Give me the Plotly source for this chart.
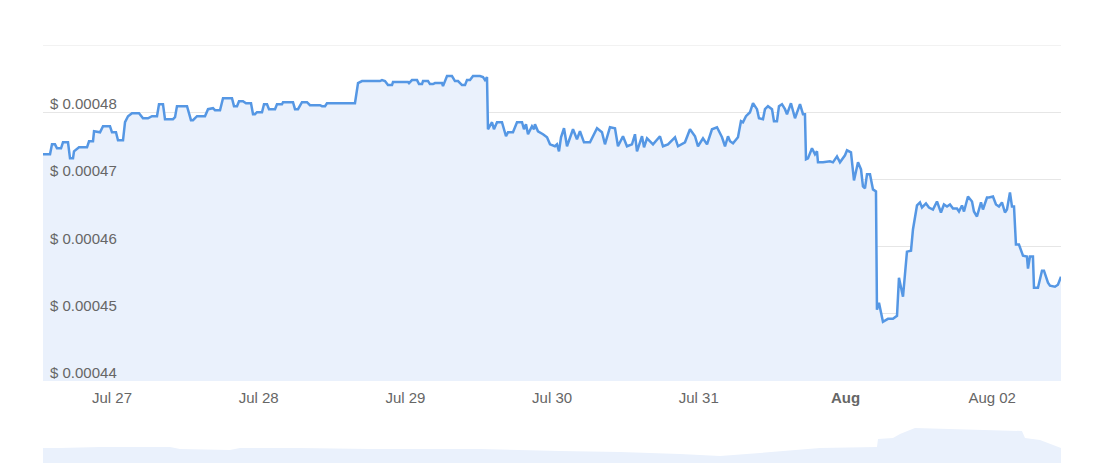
import pandas as pd
import plotly.graph_objects as go

# ---- data (hours since 2023-07-27 00:00, price in USD) ----
base_time = pd.Timestamp("2023-07-27 00:00")
hours = [-11.29, -10.14, -9.82, -9.33, -9.00, -8.34, -8.02, -7.20, -6.87, -6.38,
         -6.22, -5.40, -4.09, -3.76, -3.11, -2.94, -1.96, -1.47, -0.33, 0.00,
         0.65, 0.98, 1.80, 2.13, 2.62, 3.27, 4.42, 5.07, 5.89, 6.54,
         7.36, 7.69, 8.34, 8.67, 9.98, 10.31, 10.63, 12.27, 12.92, 13.25,
         13.91, 15.21, 15.71, 16.52, 16.85, 17.67, 18.16, 19.63, 19.96, 20.45,
         20.78, 21.43, 21.92, 22.74, 23.07, 23.39, 23.72, 24.54, 24.87, 25.36,
         25.69, 26.67, 26.99, 27.81, 27.98, 29.61, 29.94, 30.43, 31.08, 31.90,
         32.39, 34.03, 34.36, 34.85, 35.17, 37.79, 39.75, 40.25, 40.90, 41.72,
         43.84, 44.17, 44.66, 45.15, 45.81, 45.97, 48.43, 48.59, 49.08, 49.90,
         50.23, 50.72, 50.88, 51.70, 52.02, 52.52, 52.84, 53.99, 54.15, 54.81,
         55.62, 56.11, 56.61, 57.26, 57.75, 58.08, 58.57, 59.06, 60.20, 60.70,
         61.02, 61.35, 61.51, 62.17, 62.49, 62.99, 63.80, 64.46, 64.79, 65.60,
         66.26, 67.08, 67.40, 67.73, 68.06, 68.71, 69.04, 69.20, 69.69, 70.51,
         71.17, 71.66, 72.47, 72.80, 73.13, 73.46, 73.95, 74.44, 75.42, 76.07,
         76.56, 77.22, 78.20, 79.35, 80.16, 80.65, 81.47, 82.29, 82.78, 83.60,
         84.25, 85.07, 85.56, 85.89, 86.71, 87.04, 87.53, 88.51, 89.65, 90.14,
         90.96, 92.11, 92.60, 93.74, 94.56, 95.38, 95.87, 96.69, 97.35, 98.16,
         98.98, 99.80, 100.29, 100.78, 101.11, 101.60, 102.41, 102.90, 103.23, 103.72,
         104.38, 104.87, 105.52, 105.85, 106.50, 106.83, 107.32, 107.98, 108.30, 108.79,
         109.12, 109.61, 110.10, 110.43, 111.08, 111.74, 112.56, 113.05, 113.37, 113.54,
         113.86, 114.52, 115.01, 115.34, 115.50, 116.32, 117.46, 117.95, 118.61, 119.10,
         119.92, 120.25, 120.90, 121.39, 122.05, 122.54, 122.86, 123.19, 123.52, 124.01,
         124.50, 124.99, 125.15, 125.48, 126.13, 126.95, 127.77, 128.43, 128.75, 129.41,
         130.06, 130.72, 131.04, 131.70, 132.19, 132.52, 133.17, 133.66, 134.31, 134.97,
         135.62, 136.11, 136.61, 137.10, 137.59, 138.24, 138.57, 139.06, 139.39, 140.04,
         140.70, 141.02, 141.51, 142.17, 142.49, 143.15, 143.48, 144.13, 144.62, 145.11,
         145.60, 146.09, 146.42, 146.91, 147.24, 147.57, 147.89, 148.38, 149.04, 149.69,
         149.86, 150.18, 150.67, 150.84, 151.49, 152.15, 152.47, 153.13, 153.46, 154.27,
         154.76, 155.26]

prices = [0.00047373, 0.00047373, 0.00047522, 0.00047522, 0.00047463, 0.00047463, 0.00047552, 0.00047552, 0.00047313, 0.00047313,
          0.00047418, 0.00047478, 0.00047478, 0.00047567, 0.00047567, 0.00047716, 0.00047701, 0.00047791, 0.00047791, 0.00047701,
          0.00047701, 0.00047582, 0.00047582, 0.00047851, 0.00047940, 0.00047985, 0.00047985, 0.00047910, 0.00047910, 0.00047940,
          0.00047940, 0.00048119, 0.00048119, 0.00047896, 0.00047896, 0.00047925, 0.00048090, 0.00048090, 0.00047881, 0.00047881,
          0.00047940, 0.00047940, 0.00048045, 0.00048060, 0.00048030, 0.00048030, 0.00048209, 0.00048209, 0.00048090, 0.00048090,
          0.00048164, 0.00048164, 0.00048134, 0.00048134, 0.00047970, 0.00047970, 0.00048000, 0.00048000, 0.00048119, 0.00048119,
          0.00048045, 0.00048045, 0.00048119, 0.00048119, 0.00048149, 0.00048149, 0.00048045, 0.00048045, 0.00048149, 0.00048149,
          0.00048104, 0.00048104, 0.00048090, 0.00048090, 0.00048134, 0.00048134, 0.00048134, 0.00048433, 0.00048463, 0.00048463,
          0.00048463, 0.00048478, 0.00048463, 0.00048403, 0.00048403, 0.00048448, 0.00048448, 0.00048433, 0.00048478, 0.00048478,
          0.00048418, 0.00048418, 0.00048463, 0.00048463, 0.00048418, 0.00048418, 0.00048433, 0.00048433, 0.00048388, 0.00048537,
          0.00048537, 0.00048463, 0.00048463, 0.00048403, 0.00048403, 0.00048478, 0.00048478, 0.00048537, 0.00048537, 0.00048522,
          0.00048478, 0.00048522, 0.00047746, 0.00047851, 0.00047746, 0.00047851, 0.00047851, 0.00047642, 0.00047701, 0.00047701,
          0.00047851, 0.00047851, 0.00047746, 0.00047821, 0.00047672, 0.00047791, 0.00047746, 0.00047821, 0.00047716, 0.00047672,
          0.00047627, 0.00047522, 0.00047493, 0.00047522, 0.00047418, 0.00047627, 0.00047761, 0.00047493, 0.00047746, 0.00047597,
          0.00047716, 0.00047552, 0.00047552, 0.00047761, 0.00047701, 0.00047522, 0.00047776, 0.00047761, 0.00047493, 0.00047642,
          0.00047493, 0.00047522, 0.00047672, 0.00047418, 0.00047642, 0.00047478, 0.00047612, 0.00047522, 0.00047642, 0.00047493,
          0.00047522, 0.00047627, 0.00047493, 0.00047552, 0.00047746, 0.00047642, 0.00047493, 0.00047612, 0.00047522, 0.00047746,
          0.00047776, 0.00047627, 0.00047493, 0.00047642, 0.00047567, 0.00047537, 0.00047627, 0.00047866, 0.00047851, 0.00047940,
          0.00048000, 0.00048134, 0.00048045, 0.00047910, 0.00047896, 0.00048045, 0.00048090, 0.00048045, 0.00047866, 0.00047866,
          0.00048090, 0.00048119, 0.00048045, 0.00047970, 0.00048134, 0.00047910, 0.00048119, 0.00047970, 0.00047970, 0.00047299,
          0.00047313, 0.00047463, 0.00047373, 0.00047418, 0.00047254, 0.00047254, 0.00047269, 0.00047254, 0.00047343, 0.00047254,
          0.00047358, 0.00047433, 0.00047403, 0.00046985, 0.00047254, 0.00047149, 0.00046896, 0.00046866, 0.00047075, 0.00047075,
          0.00046851, 0.00046821, 0.00045060, 0.00045164, 0.00044881, 0.00044925, 0.00044925, 0.00044969, 0.00045537, 0.00045254,
          0.00045925, 0.00045940, 0.00046254, 0.00046612, 0.00046657, 0.00046582, 0.00046642, 0.00046582, 0.00046552, 0.00046672,
          0.00046508, 0.00046627, 0.00046597, 0.00046627, 0.00046567, 0.00046567, 0.00046522, 0.00046612, 0.00046522, 0.00046746,
          0.00046672, 0.00046522, 0.00046448, 0.00046657, 0.00046552, 0.00046731, 0.00046731, 0.00046746, 0.00046627, 0.00046597,
          0.00046657, 0.00046508, 0.00046552, 0.00046806, 0.00046597, 0.00046597, 0.00046030, 0.00046030, 0.00045866, 0.00045851,
          0.00045672, 0.00045851, 0.00045851, 0.00045388, 0.00045388, 0.00045642, 0.00045642, 0.00045463, 0.00045418, 0.00045403,
          0.00045433, 0.00045552]

# navigator (overview) series, relative units
nav_hours = [-11.29, -8.51, -1.96, 9.49, 11.12, 19.30, 20.94, 30.76, 42.21, 60.20,
             73.29, 83.11, 92.93, 99.47, 106.01, 115.83, 125.15, 125.32, 127.77, 128.92,
             131.37, 138.73, 148.87, 149.37, 151.82, 155.26]
nav_values = [15, 15, 16, 16, 14, 13, 15, 15, 14, 14,
              12, 11, 9, 7, 10, 15, 16, 24, 25, 29,
              35, 34, 32, 25, 23, 15]

tick_dates = ["2023-07-27", "2023-07-28", "2023-07-29", "2023-07-30",
              "2023-07-31", "2023-08-01", "2023-08-02"]
tick_labels = ["Jul 27", "Jul 28", "Jul 29", "Jul 30", "Jul 31", "<b>Aug</b>", "Aug 02"]
y_ticks = [0.00044, 0.00045, 0.00046, 0.00047, 0.00048, 0.00049]
y_labels = ["$ 0.00044", "$ 0.00045", "$ 0.00046", "$ 0.00047", "$ 0.00048"]

times = base_time + pd.to_timedelta(hours, unit="h")
nav_times = base_time + pd.to_timedelta(nav_hours, unit="h")

LINE = "#5597e4"
FILL = "rgba(234,241,252,1)"
FONT = "Liberation Sans, Arial, sans-serif"
GRID = "#e6e6e6"
TEXT = "#666666"

fig = go.Figure()
fig.add_trace(go.Scatter(
    x=times, y=prices, mode="lines", fill="tozeroy", fillcolor=FILL,
    line=dict(color=LINE, width=2.5), xaxis="x", yaxis="y", hoverinfo="skip",
))
fig.add_trace(go.Scatter(
    x=nav_times, y=nav_values, mode="lines", fill="tozeroy", fillcolor=FILL,
    line=dict(color=FILL, width=0), xaxis="x2", yaxis="y2", hoverinfo="skip",
))

# y-axis labels drawn inside the plot, just above each grid line
annotations = []
for val, lab in zip(y_ticks, y_labels):
    annotations.append(dict(
        x=0, xref="paper", y=val, yref="y", text=lab, showarrow=False,
        xanchor="left", yanchor="bottom", xshift=5, yshift=-2,
        font=dict(family=FONT, size=15, color=TEXT),
    ))

# top grid line (at the upper edge of the value range)
shapes = [dict(type="line", xref="paper", x0=0, x1=1, yref="y",
               y0=y_ticks[-1], y1=y_ticks[-1], line=dict(color=GRID, width=1), layer="below")]

x_range = [times[0], times[-1]]
# page body has an 8px margin; size the figure to fill the rest of the window
fig.update_layout(
    width=1090, height=455,
    margin=dict(l=35, r=37, t=37, b=0),
    paper_bgcolor="white", plot_bgcolor="white",
    showlegend=False,
    font=dict(family=FONT, size=15, color=TEXT),
    annotations=annotations,
    shapes=shapes,
    xaxis=dict(
        domain=[0, 1], anchor="y", range=x_range, type="date",
        tickvals=tick_dates, ticktext=tick_labels, showgrid=False,
        showline=False, zeroline=False, ticks="outside", ticklen=3,
        tickcolor="rgba(0,0,0,0)", tickfont=dict(size=15, color=TEXT),
    ),
    yaxis=dict(
        domain=[0.19617, 1], anchor="x", range=[0.00044, 0.00049],
        tickvals=y_ticks, showticklabels=False,
        showgrid=True, gridcolor=GRID, gridwidth=1, zeroline=False, showline=False,
    ),
    xaxis2=dict(
        domain=[0, 1], anchor="y2", range=x_range, type="date",
        showticklabels=False, showgrid=False, zeroline=False, showline=False,
    ),
    yaxis2=dict(
        domain=[0, 0.10048], anchor="x2", range=[0, 42],
        showticklabels=False, showgrid=False, zeroline=False, showline=False,
    ),
)

fig.write_html("out.html")
